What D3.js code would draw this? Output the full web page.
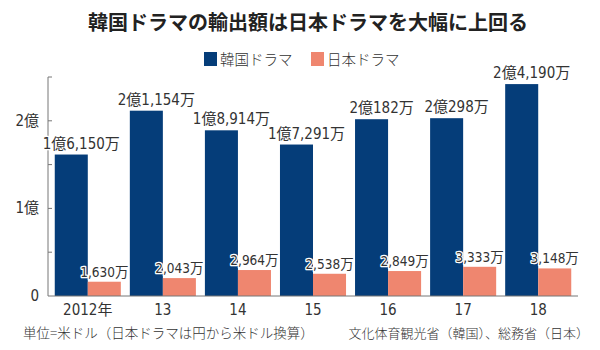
<!DOCTYPE html>
<html>
<head>
<meta charset="utf-8">
<script src="https://cdn.jsdelivr.net/npm/d3@7"></script>
<style>
  body { margin: 0; background: #fff; }
  svg text { fill: #333; }
  .num { font-family: "Liberation Sans Narrow", "DejaVu Sans Condensed", "Noto Sans CJK JP", sans-serif; }
  .jp { font-family: "Noto Sans CJK JP", sans-serif; }
  .halo { stroke: #fff; stroke-width: 2.5px; paint-order: stroke; stroke-linejoin: round; }
</style>
</head>
<body>
<div id="chart"></div>
<script>
// data (億ドル)
let years = ["2012年", "13", "14", "15", "16", "17", "18"];
let korea = [1.6150, 2.1154, 1.8914, 1.7291, 2.0182, 2.0298, 2.4190];
let japan = [0.1630, 0.2043, 0.2964, 0.2538, 0.2849, 0.3333, 0.3148];
let koreaLabels = ["1億6,150万", "2億1,154万", "1億8,914万", "1億7,291万", "2億182万", "2億298万", "2億4,190万"];
let japanLabels = ["1,630万", "2,043万", "2,964万", "2,538万", "2,849万", "3,333万", "3,148万"];
let yTicks = [0, 1, 2];
let yTickLabels = ["0", "1億", "2億"];
let seriesNames = ["韓国ドラマ", "日本ドラマ"];
let colors = ["#053d79", "#ef866f"];

let width = 600, height = 350;
let margin = {top: 77, right: 22, bottom: 54, left: 48};

let svg = d3.select("#chart")
    .append("svg")
        .attr("width", width)
        .attr("height", height);

// title
svg.append("text")
    .attr("class", "jp")
    .attr("x", 308)
    .attr("y", 30)
    .attr("text-anchor", "middle")
    .style("font-size", "20px")
    .style("font-weight", "bold")
    .style("fill", "#222")
    .text("韓国ドラマの輸出額は日本ドラマを大幅に上回る");

// legend
let legendX = [204, 311];
seriesNames.forEach((name, i) => {
    svg.append("rect")
        .attr("x", legendX[i])
        .attr("y", 52)
        .attr("width", 13)
        .attr("height", 14)
        .attr("fill", colors[i]);
    svg.append("text")
        .attr("class", "jp")
        .attr("x", legendX[i] + 16)
        .attr("y", 65)
        .style("font-size", "14.5px")
        .style("font-weight", "300")
        .text(name);
});

let xScale = d3.scaleBand()
    .domain(years)
    .range([margin.left, width - margin.right])
    .paddingInner(0.12)
    .paddingOuter(0.09);

let yScale = d3.scaleLinear()
    .domain([0, 2.5])
    .range([height - margin.bottom, margin.top]);

let bw = xScale.bandwidth() / 2;

// y axis line + ticks
svg.append("line")
    .attr("x1", margin.left).attr("x2", margin.left)
    .attr("y1", yScale(2.5)).attr("y2", yScale(0))
    .attr("stroke", "#777").attr("stroke-width", 1);

svg.selectAll(".ytick")
    .data([0.5, 1, 1.5, 2, 2.5])
    .enter()
    .append("line")
        .attr("x1", margin.left)
        .attr("x2", margin.left + 4)
        .attr("y1", d => yScale(d))
        .attr("y2", d => yScale(d))
        .attr("stroke", "#777");

svg.selectAll(".ylabel")
    .data(yTicks)
    .enter()
    .append("text")
        .attr("class", "num")
        .attr("x", 39)
        .attr("y", d => yScale(d) + 5)
        .attr("text-anchor", "end")
        .style("font-size", "15px")
        .text((d, i) => yTickLabels[i]);

// bars
svg.selectAll(".kbar")
    .data(korea)
    .enter()
    .append("rect")
        .attr("x", (d, i) => xScale(years[i]))
        .attr("y", d => yScale(d))
        .attr("width", bw)
        .attr("height", d => yScale(0) - yScale(d))
        .attr("fill", colors[0]);

svg.selectAll(".jbar")
    .data(japan)
    .enter()
    .append("rect")
        .attr("x", (d, i) => xScale(years[i]) + bw)
        .attr("y", d => yScale(d))
        .attr("width", bw)
        .attr("height", d => yScale(0) - yScale(d))
        .attr("fill", colors[1]);

// baseline
svg.append("line")
    .attr("x1", margin.left).attr("x2", width - margin.right)
    .attr("y1", yScale(0)).attr("y2", yScale(0))
    .attr("stroke", "#777");

// value labels
svg.selectAll(".klabel")
    .data(korea)
    .enter()
    .append("text")
        .attr("class", "num halo")
        .attr("x", (d, i) => xScale(years[i]) + bw / 2 + 10)
        .attr("y", d => yScale(d) - 6)
        .attr("text-anchor", "middle")
        .style("font-size", "15px")
        .text((d, i) => koreaLabels[i]);

svg.selectAll(".jlabel")
    .data(japan)
    .enter()
    .append("text")
        .attr("class", "num halo")
        .attr("x", (d, i) => xScale(years[i]) + bw * 1.5)
        .attr("y", d => yScale(d) - 5)
        .attr("text-anchor", "middle")
        .style("font-size", "13.5px")
        .text((d, i) => japanLabels[i]);

// x labels
svg.selectAll(".xlabel")
    .data(years)
    .enter()
    .append("text")
        .attr("class", "num")
        .attr("x", d => xScale(d) + bw)
        .attr("y", 315)
        .attr("text-anchor", "middle")
        .style("font-size", "15px")
        .text(d => d);

// footer
svg.append("text")
    .attr("class", "jp")
    .attr("x", 23)
    .attr("y", 338)
    .style("font-size", "13.5px")
    .style("font-weight", "300")
    .text("単位=米ドル（日本ドラマは円から米ドル換算）");

svg.append("text")
    .attr("class", "jp")
    .attr("x", 589)
    .attr("y", 338)
    .attr("text-anchor", "end")
    .style("font-size", "13px")
    .style("font-weight", "300")
    .text("文化体育観光省（韓国）、総務省（日本）");
</script>
</body>
</html>
